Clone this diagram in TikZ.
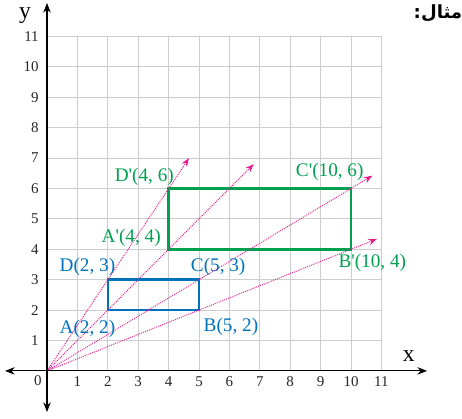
\documentclass[tikz,border=0pt]{standalone}
\usepackage{fontspec}
\setmainfont{Liberation Serif}
\newfontfamily\arabicfont[Script=Arabic]{DejaVu Sans}
\TeXXeTstate=1
\usetikzlibrary{arrows.meta}

\definecolor{rayPink}{RGB}{230,30,140}
\definecolor{origBlue}{RGB}{0,114,188}
\definecolor{imageGreen}{RGB}{0,160,80}
\definecolor{gridGrey}{RGB}{205,205,205}

\begin{document}
\begin{tikzpicture}[
    tick_format/.style={font=\fontsize{14}{16}\selectfont, text=black!85},
    axis_format/.style={font=\fontsize{22}{24}\selectfont, inner sep=0pt},
    blue_label/.style={font=\fontsize{18}{20}\selectfont, text=origBlue, inner sep=0pt},
    green_label/.style={font=\fontsize{18}{20}\selectfont, text=imageGreen, inner sep=0pt},
    ray_line/.style={rayPink, densely dotted, line width=0.9pt, -{Stealth[length=8pt,width=6pt]}},
    ]
    \useasboundingbox (-1.546,-1.58) rectangle (13.65,12.20);

    % --- Grid ---
    \draw[gridGrey, line width=0.8pt] (0,0) grid (11,11);

    % --- Points ---
    \coordinate (O) at (0,0);
    \coordinate (A) at (2,2);
    \coordinate (B) at (5,2);
    \coordinate (C) at (5,3);
    \coordinate (D) at (2,3);
    \coordinate (Ai) at (4,4);
    \coordinate (Bi) at (10,4);
    \coordinate (Ci) at (10,6);
    \coordinate (Di) at (4,6);

    % --- Rectangles ---
    \draw[origBlue, line width=2.4pt] (A) -- (B) -- (C) -- (D) -- cycle;
    \draw[imageGreen, line width=2.4pt] (Ai) -- (Bi) -- (Ci) -- (Di) -- cycle;

    % --- Rays from the origin ---
    \coordinate (tipA) at (6.8,6.8);
    \coordinate (tipB) at (10.85,4.34);
    \coordinate (tipC) at (10.7,6.42);
    \coordinate (tipD) at (4.67,7.0);
    \draw[ray_line] (O) -- (tipA);
    \draw[ray_line] (O) -- (tipB);
    \draw[ray_line] (O) -- (tipC);
    \draw[ray_line] (O) -- (tipD);

    % --- Axes ---
    \draw[line width=1pt, {Stealth[length=9pt,width=7pt]}-{Stealth[length=9pt,width=7pt]}] (-1.38,0) -- (12.5,0);
    \draw[line width=1pt, {Stealth[length=9pt,width=7pt]}-{Stealth[length=9pt,width=7pt]}] (0,-1.35) -- (0,12.1);
    \node[axis_format] (xlabel) at (11.9,0.5) {x};
    \node[axis_format] (ylabel) at (-0.72,11.68) {y};

    % --- Tick numbers ---
    \node[tick_format] (zero) at (-0.3,-0.32) {0};
    \foreach \n in {1,...,11} {
      \node[tick_format, anchor=north] (xt\n) at (\n,-0.07) {\n};
      \node[tick_format, anchor=east] (yt\n) at (-0.15,\n) {\n};
    }

    % --- Point labels ---
    \node[blue_label] (lblA) at (1.33,1.38) {A(2, 2)};
    \node[blue_label] (lblB) at (6.05,1.45) {B(5, 2)};
    \node[blue_label] (lblC) at (5.63,3.42) {C(5, 3)};
    \node[blue_label] (lblD) at (1.33,3.42) {D(2, 3)};
    \node[green_label] (lblAi) at (2.77,4.37) {A\textquotesingle(4, 4)};
    \node[green_label] (lblBi) at (10.7,3.55) {B\textquotesingle(10, 4)};
    \node[green_label] (lblCi) at (9.3,6.55) {C\textquotesingle(10, 6)};
    \node[green_label] (lblDi) at (3.2,6.38) {D\textquotesingle(4, 6)};

    % --- Title ---
    \node[inner sep=0pt] (title) at (12.86,11.75)
      {\fontsize{17}{19}\selectfont\arabicfont\bfseries\beginR مثال:\endR};

\end{tikzpicture}
\end{document}
